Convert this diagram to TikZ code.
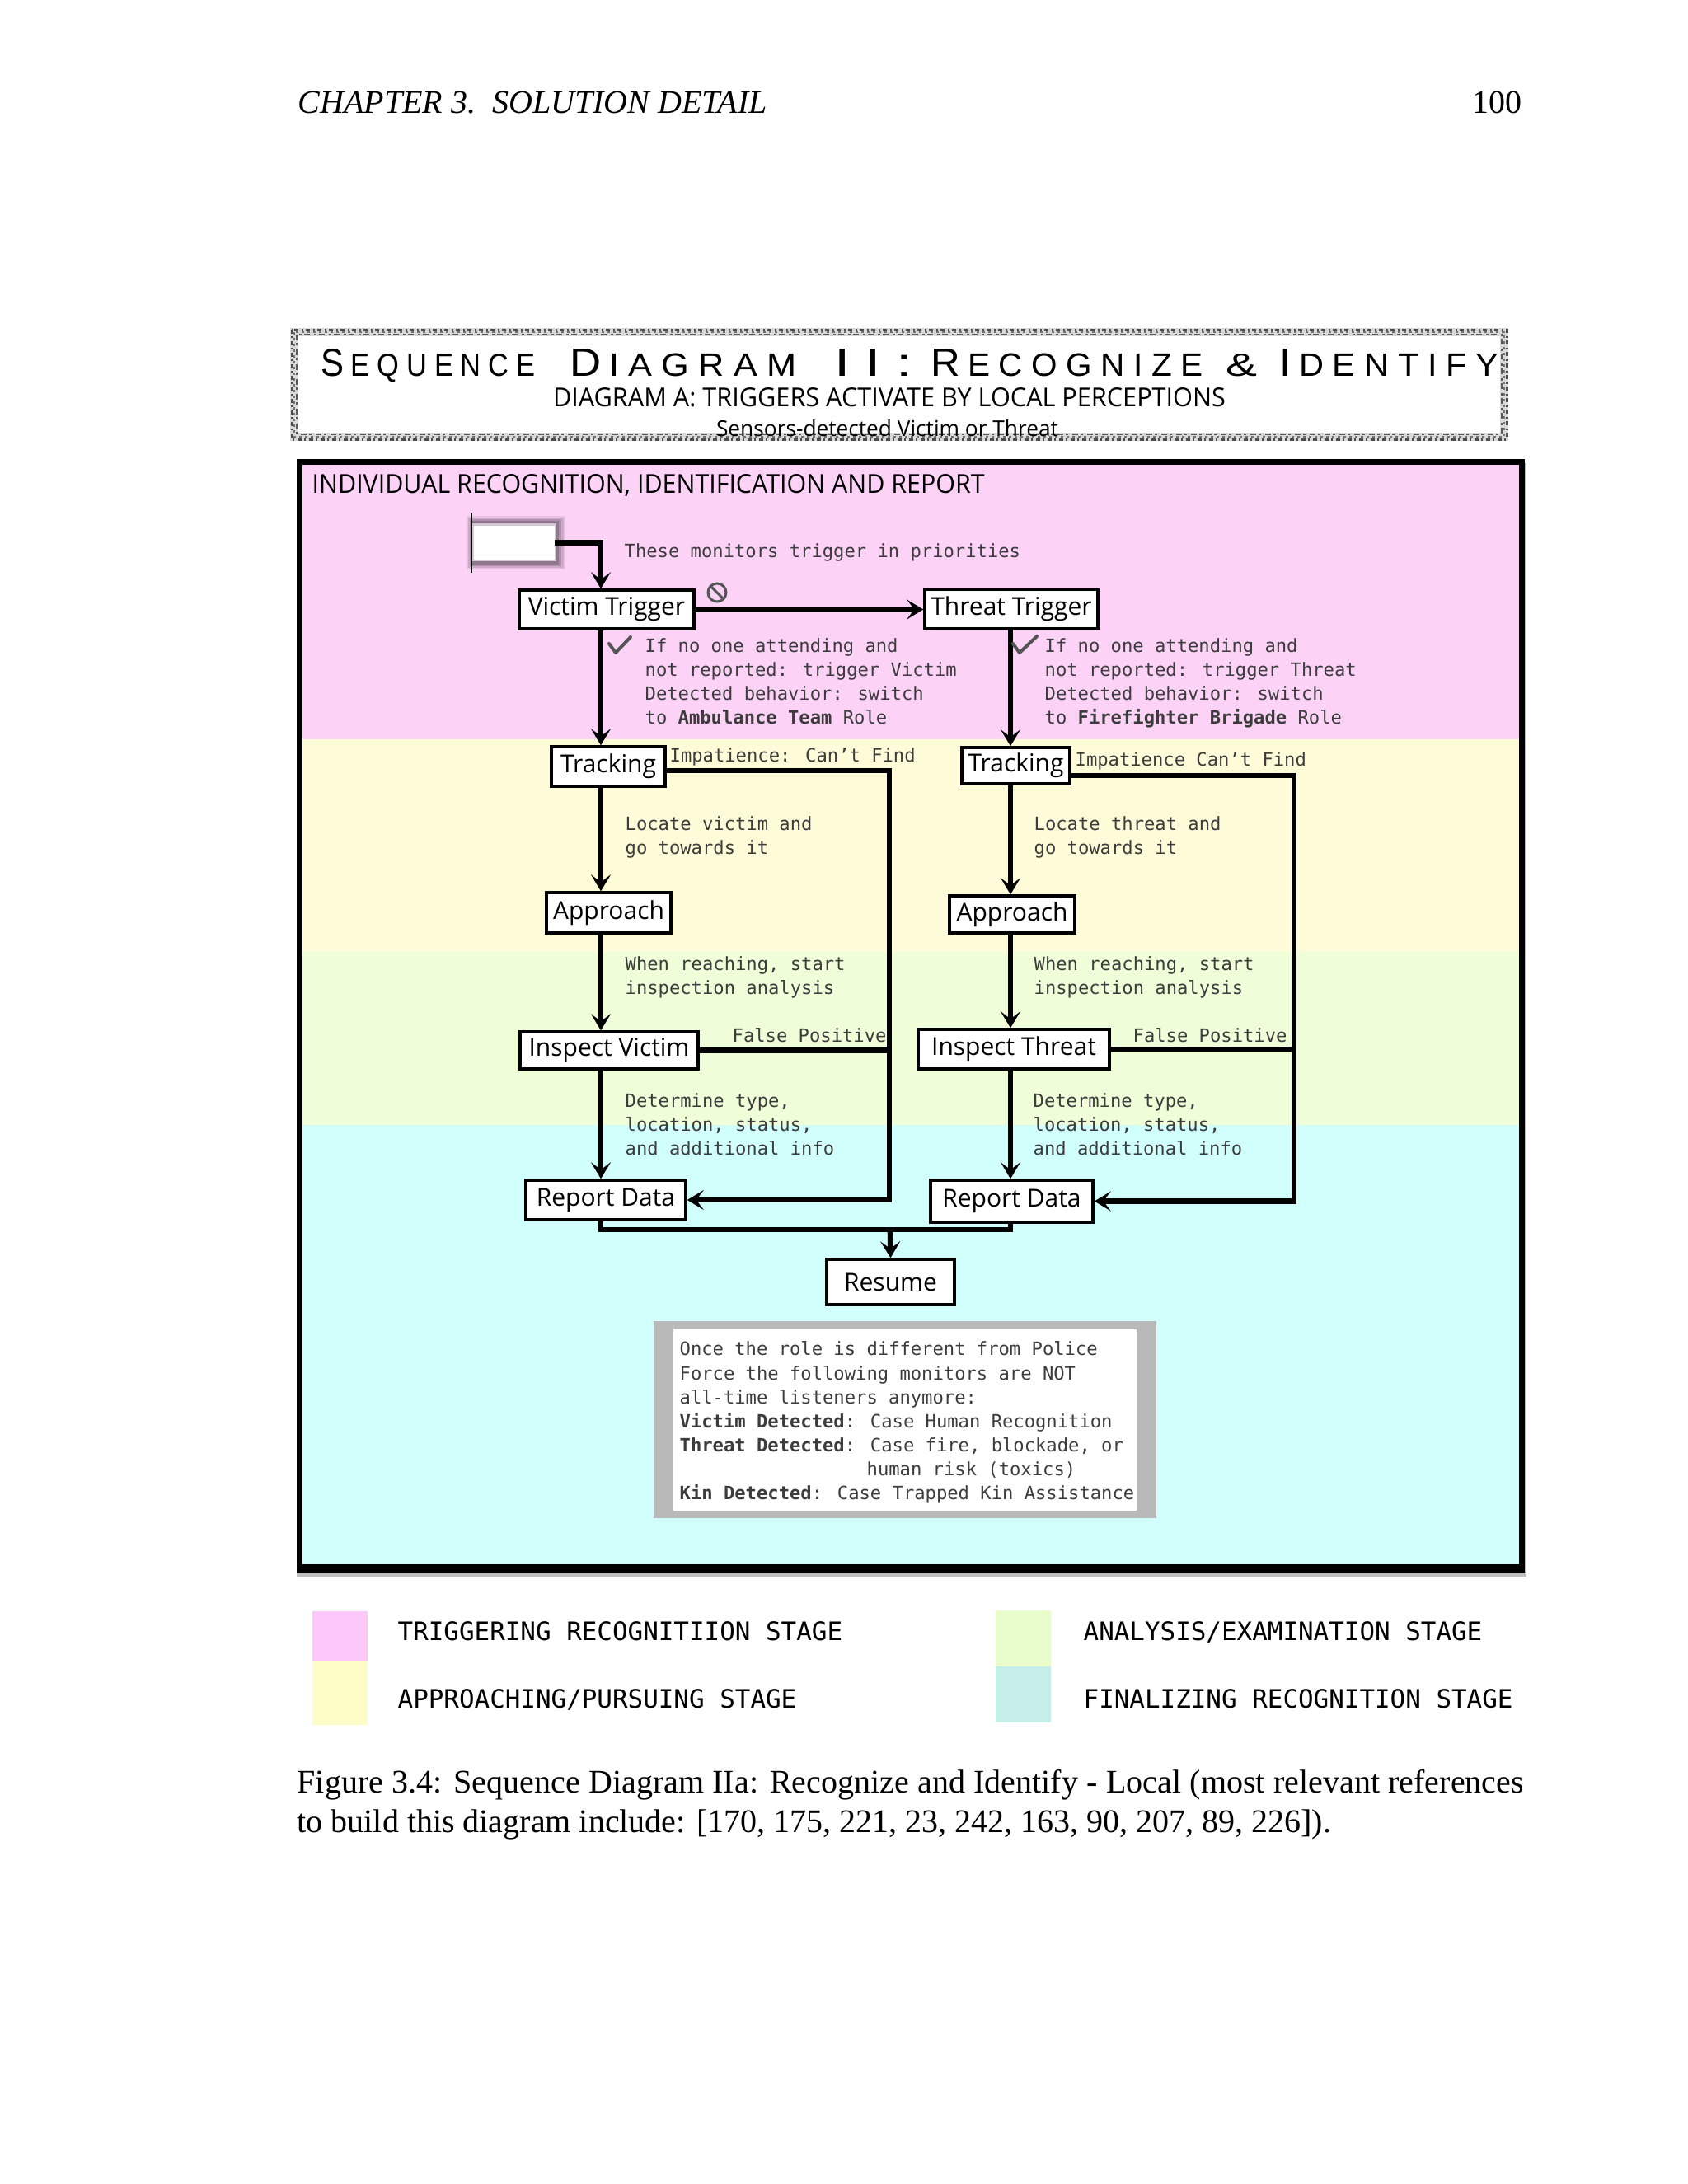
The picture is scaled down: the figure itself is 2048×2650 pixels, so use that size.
\documentclass[tikz,border=0pt]{standalone}
\usepackage{fontspec}
\usepackage{graphicx}
\setmainfont{Liberation Serif}
\newfontfamily\boxf{Open Sans}
\newfontfamily\monof{DejaVu Sans Mono}
\newfontfamily\titlef{Liberation Sans}
\usetikzlibrary{arrows.meta,shadows}
\definecolor{pinkbg}{RGB}{252,211,247}
\definecolor{yellowbg}{RGB}{254,252,216}
\definecolor{greenbg}{RGB}{239,254,216}
\definecolor{cyanbg}{RGB}{208,255,252}
\definecolor{textgray}{RGB}{60,60,60}
\definecolor{iconGray}{RGB}{85,85,85}
\definecolor{notegray}{RGB}{185,185,185}
\definecolor{blurc}{RGB}{90,70,90}
\definecolor{legpink}{RGB}{253,200,249}
\definecolor{legyellow}{RGB}{254,253,200}
\definecolor{leggreen}{RGB}{233,253,204}
\definecolor{legcyan}{RGB}{197,238,232}
\newcommand\tg{\kern0.26em}
\newcommand\tB[1]{{\fontsize{14}{14}\selectfont #1}}
\newcommand\tS[1]{{\fontsize{11.5}{11.5}\selectfont #1}}
\tikzset{
  box/.style={draw=black, line width=1.05pt, fill=white, inner sep=0pt,
    font=\boxf\fontsize{9pt}{10pt}\selectfont,
    drop shadow={shadow xshift=0.6pt, shadow yshift=-0.6pt, opacity=0.45, fill=black}},
  conn/.style={line width=2pt, -{Stealth[length=6pt,width=7.2pt,inset=2.7pt]}},
  seg/.style={line width=2pt},
  mono/.style={anchor=base west, inner sep=0pt, font=\monof\fontsize{6.65pt}{8.7pt}\selectfont, text=textgray},
  legendtxt/.style={anchor=base west, inner sep=0pt, font=\monof\fontsize{9.27pt}{11pt}\selectfont, text=black},
  plain/.style={inner sep=0pt},
  tword/.style={inner sep=0pt, anchor=base west, font=\titlef},
  checkmk/.style={line width=1.2pt, iconGray, line cap=round, line join=round},
}
\begin{document}
\begin{tikzpicture}[x=0.3pt,y=-0.3pt]
\useasboundingbox (0,0) rectangle (2048,2650);
\fill[white] (0,0) rectangle (2048,2650);

% page header
\node[plain, anchor=base west, font=\itshape\fontsize{12pt}{14.5pt}\selectfont] (hdr) at (361,137) {CHAPTER 3.\ \ SOLUTION DETAIL};
\node[plain, anchor=base east, font=\fontsize{12pt}{14.5pt}\selectfont] (pgnum) at (1847,137) {100};

% title box border
\draw[line width=3pt, gray!30] (357,403) rectangle (1825,530);
\draw[line width=0.9pt, black!70, dash pattern=on 1.5pt off 0.9pt on 0.6pt off 1.2pt] (354,400) rectangle (1828,533);
\draw[line width=0.6pt, black!55, dash pattern=on 0.9pt off 1.2pt] (357,403) rectangle (1825,530);
\draw[line width=0.6pt, black!65, dash pattern=on 2.1pt off 0.9pt on 0.9pt off 1.5pt] (360,406) rectangle (1822,527);

% title words
\node[tword] (tw1) at (389,456) {\resizebox{78pt}{9.9pt}{\titlef\tB{S}\tg\tS{E\tg Q\tg U\tg E\tg N\tg C\tg E}}};
\node[tword] (tw2) at (691,456) {\resizebox{82.5pt}{9.9pt}{\titlef\tB{D}\tg\tS{I\tg A\tg G\tg R\tg A\tg M}}};
\node[tword] (tw3) at (1012,456) {\resizebox{28.2pt}{9.9pt}{\titlef\tB{I\tg I\tg :}}};
\node[tword] (tw4) at (1129,456) {\resizebox{99pt}{9.9pt}{\titlef\tB{R}\tg\tS{E\tg C\tg O\tg G\tg N\tg I\tg Z\tg E}}};
\node[tword] (tw5) at (1487,456) {\resizebox{11.4pt}{8.1pt}{\titlef\tS{\&}}};
\node[tword] (tw6) at (1552,456) {\resizebox{79.8pt}{9.9pt}{\titlef\tB{I}\tg\tS{D\tg E\tg N\tg T\tg I\tg F\tg Y}}};

\node[plain, anchor=base] (subttl) at (1079,493) {\resizebox{244.8pt}{6.9pt}{\boxf DIAGRAM A: TRIGGERS ACTIVATE BY LOCAL PERCEPTIONS}};
\node[plain, anchor=base] (sens) at (1076.5,529) {\resizebox{124.5pt}{6pt}{\boxf Sensors-detected Victim or Threat}};

% stage bands and frame
\fill[pinkbg] (366.5,563.5) rectangle (1842.5,897);
\fill[yellowbg] (366.5,897) rectangle (1842.5,1155);
\fill[greenbg] (366.5,1155) rectangle (1842.5,1365);
\fill[cyanbg] (366.5,1365) rectangle (1842.5,1897.5);
\draw[line width=2.1pt] (363,560) rectangle (1846,1901);
\fill[black] (360,1900) rectangle (1849.5,1909);
\fill[gray!50] (360,1909) rectangle (1852,1913);
\fill[gray!50] (1849.5,562) rectangle (1852,1913);

\node[plain, anchor=base west] (hdg) at (378,598) {\resizebox{244.8pt}{6.9pt}{\boxf INDIVIDUAL RECOGNITION, IDENTIFICATION AND REPORT}};

% start element (blurred box)
\fill[blurc, opacity=0.12] (566,626) rectangle (686,691);
\fill[blurc, opacity=0.18] (568,628) rectangle (684,689);
\fill[blurc, opacity=0.25] (570,630) rectangle (681,687);
\fill[blurc, opacity=0.35] (572,632) rectangle (678,685);
\fill[white, opacity=0.6] (573,635) rectangle (675,681);
\node[plain, fill=white, minimum width=29.4pt, minimum height=12.3pt] (start) at (623.5,658.5) {};
\draw[line width=0.6pt] (572,622) -- (572,695);

\node[mono] (tmon) at (757,676) {These monitors trigger in priorities};

% column reference coordinates
\coordinate (colL) at (729,0);
\coordinate (colR) at (1226,0);
\coordinate (fbL) at (1079,0);
\coordinate (fbR) at (1570,0);
\coordinate (mrg) at (1080,1492);

% boxes
\node[box, minimum width=63.6pt, minimum height=14.1pt] (VT) at (736,739.5) {Victim Trigger};
\node[box, minimum width=63pt, minimum height=14.1pt] (TT) at (1227,739) {Threat Trigger};
\node[box, minimum width=41.4pt, minimum height=14.4pt] (TrL) at (738,930) {Tracking};
\node[box, minimum width=45.3pt, minimum height=14.7pt] (ApL) at (738.5,1107.5) {Approach};
\node[box, minimum width=64.8pt, minimum height=13.5pt] (IV) at (739,1274.5) {Inspect Victim};
\node[box, minimum width=58.2pt, minimum height=14.4pt] (RDL) at (735,1456) {Report Data};
\node[box, minimum width=39.3pt, minimum height=13.2pt] (TrR) at (1232.5,929) {Tracking};
\node[box, minimum width=45.6pt, minimum height=13.5pt] (ApR) at (1228,1109.5) {Approach};
\node[box, minimum width=69.6pt, minimum height=14.4pt] (IT) at (1230,1273) {Inspect Threat};
\node[box, minimum width=59.1pt, minimum height=15.3pt] (RDR) at (1227.5,1457.5) {Report Data};
\node[box, minimum width=46.5pt, minimum height=16.5pt] (RS) at (1080.5,1555.5) {Resume};

% prohibition icon
\draw[line width=0.9pt, iconGray] (870,719) circle (3.3pt);
\draw[line width=0.9pt, iconGray] (862.5,711.5) -- (877.5,726.5);

% connectors
\draw[conn] (start.east) -| (VT.north -| colL);
\draw[conn] (VT.east) -- (VT.east -| TT.west);
\draw[conn] (VT.south -| colL) -- (TrL.north -| colL);
\draw[conn] (TrL.south -| colL) -- (ApL.north -| colL);
\draw[conn] (ApL.south -| colL) -- (IV.north -| colL);
\draw[conn] (IV.south -| colL) -- (RDL.north -| colL);
\draw[conn] (TT.south -| colR) -- (TrR.north -| colR);
\draw[conn] (TrR.south -| colR) -- (ApR.north -| colR);
\draw[conn] (ApR.south -| colR) -- (IT.north -| colR);
\draw[conn] (IT.south -| colR) -- (RDR.north -| colR);
\draw[conn] ([yshift=-1.5pt]TrL.east) -- ([yshift=-1.5pt]TrL.east -| fbL) -- (RDL.east -| fbL) -- (RDL.east);
\draw[seg] (IV.east) -- (IV.east -| fbL);
\draw[conn] ([yshift=-3.6pt]TrR.east) -- ([yshift=-3.6pt]TrR.east -| fbR) -- (RDR.east -| fbR) -- (RDR.east);
\draw[seg] (IT.east) -- (IT.east -| fbR);
\draw[seg] (RDL.south -| colL) |- (mrg) -| (RDR.south -| colR);
\draw[conn] (mrg) -- (RS.north);

% check marks
\draw[checkmk] (739,781) -- (747,792) -- (765,773);
\draw[checkmk] (1229,781) -- (1237,792) -- (1258,772);

% annotations left
\node[mono] (aL1) at (782,791) {If no one attending and};
\node[mono] (aL2) at (782,820) {not reported: trigger Victim};
\node[mono] (aL3) at (782,849) {Detected behavior: switch};
\node[mono] (aL4) at (782,878) {to \textbf{Ambulance Team} Role};
\node[mono] (iL) at (812,924) {Impatience: Can’t Find};
\node[mono] (lL1) at (758,1007) {Locate victim and};
\node[mono] (lL2) at (758,1036) {go towards it};
\node[mono] (wL1) at (758,1177) {When reaching, start};
\node[mono] (wL2) at (758,1206) {inspection analysis};
\node[mono] (fL) at (888,1264) {False Positive};
\node[mono] (dL1) at (758,1343) {Determine type,};
\node[mono] (dL2) at (758,1372) {location, status,};
\node[mono] (dL3) at (758,1401) {and additional info};

% annotations right
\node[mono] (aR1) at (1267,791) {If no one attending and};
\node[mono] (aR2) at (1267,820) {not reported: trigger Threat};
\node[mono] (aR3) at (1267,849) {Detected behavior: switch};
\node[mono] (aR4) at (1267,878) {to \textbf{Firefighter Brigade} Role};
\node[mono] (iR) at (1304,929) {Impatience Can’t Find};
\node[mono] (lR1) at (1254,1007) {Locate threat and};
\node[mono] (lR2) at (1254,1036) {go towards it};
\node[mono] (wR1) at (1254,1177) {When reaching, start};
\node[mono] (wR2) at (1254,1206) {inspection analysis};
\node[mono] (fR) at (1374,1264) {False Positive};
\node[mono] (dR1) at (1253,1343) {Determine type,};
\node[mono] (dR2) at (1253,1372) {location, status,};
\node[mono] (dR3) at (1253,1401) {and additional info};

% note box
\node[plain, fill=notegray, minimum width=183pt, minimum height=71.7pt] (noteo) at (1098,1722.5) {};
\node[plain, fill=white, minimum width=168.6pt, minimum height=66pt] (notei) at (1098,1723) {};
\node[mono] (n1) at (824,1644) {Once the role is different from Police};
\node[mono] (n2) at (824,1674) {Force the following monitors are NOT};
\node[mono] (n3) at (824,1703) {all-time listeners anymore:};
\node[mono] (n4) at (824,1732) {\textbf{Victim Detected}: Case Human Recognition};
\node[mono] (n5) at (824,1761) {\textbf{Threat Detected}: Case fire, blockade, or};
\node[mono] (n6) at (1051,1790) {human risk (toxics)};
\node[mono] (n7) at (824,1819) {\textbf{Kin Detected}: Case Trapped Kin Assistance};

% legend
\fill[legpink] (379,1955) rectangle (446,2016);
\fill[legyellow] (379,2016) rectangle (446,2093);
\fill[leggreen] (1208,1954) rectangle (1275,2022);
\fill[legcyan] (1208,2022) rectangle (1275,2090);
\node[legendtxt] (lg1) at (482,1990) {TRIGGERING RECOGNITIION STAGE};
\node[legendtxt] (lg2) at (482,2072) {APPROACHING/PURSUING STAGE};
\node[legendtxt] (lg3) at (1314,1990) {ANALYSIS/EXAMINATION STAGE};
\node[legendtxt] (lg4) at (1314,2072) {FINALIZING RECOGNITION STAGE};

% caption
\node[plain, anchor=base west, font=\fontsize{12pt}{14.5pt}\selectfont] (cap1) at (360,2175) {\makebox[446.4pt][s]{Figure 3.4: Sequence Diagram IIa: Recognize and Identify - Local (most relevant references}};
\node[plain, anchor=base west, font=\fontsize{12pt}{14.5pt}\selectfont] (cap2) at (360,2223) {to build this diagram include: [170, 175, 221, 23, 242, 163, 90, 207, 89, 226]).};
\end{tikzpicture}
\end{document}
